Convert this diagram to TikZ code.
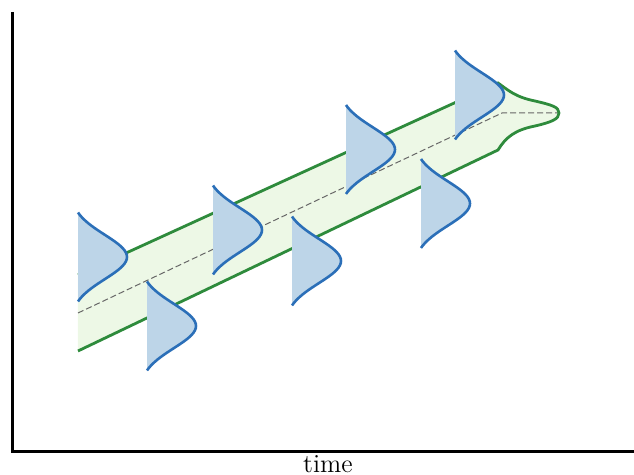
\documentclass[tikz,border=0pt]{standalone}
\usepackage{tikz}

\definecolor{bandgreen}{HTML}{2E8B3C}
\definecolor{bandfill}{HTML}{EDF8E6}
\definecolor{bellblue}{HTML}{2B6FB8}
\definecolor{bellfill}{HTML}{BDD5E8}

\tikzset{
  axisline/.style={line width=1.5pt},
  bandline/.style={draw=bandgreen, line width=1.4pt},
  meanline/.style={draw=black!60, line width=0.5pt, dash pattern=on 3pt off 1.5pt},
  bellline/.style={draw=bellblue, line width=1.3pt},
}

% bell curve standing on its left edge: #1 = left x, #2 = centre y
\newcommand{\bell}[2]{%
  \fill[bellfill] plot[variable=\t, domain=-1:1, samples=41]
    ({#1+49*(exp(-2*\t*\t)-0.1353)/0.8647}, {#2+44.5*\t}) -- cycle;
  \draw[bellline] plot[variable=\t, domain=-1:1, samples=41]
    ({#1+49*(exp(-2*\t*\t)-0.1353)/0.8647}, {#2+44.5*\t});
}

\begin{document}
\begin{tikzpicture}[x=0.5pt, y=-0.5pt]
\useasboundingbox (0,0) rectangle (634,475);

% corners of the band
\coordinate (ul) at (78,275);
\coordinate (ur) at (498,83);
\coordinate (lr) at (498,150);
\coordinate (ll) at (78,351);
\coordinate (tip) at (559,113);
% mean
\coordinate (ml) at (78,313);
\coordinate (mc) at (502,113);
\coordinate (mr) at (558,113);

\fill[bandfill] (ul) -- (ur) .. controls (508,90) and (515,97) .. (535,101)
  .. controls (552,105) and (559,107) .. (tip)
  .. controls (559,119) and (552,122) .. (535,126)
  .. controls (515,130) and (506,137) .. (lr) -- (ll) -- cycle;
\draw[meanline] (ml) -- (mc) -- (mr);
\draw[bandline] (ul) -- (ur) .. controls (508,90) and (515,97) .. (535,101)
  .. controls (552,105) and (559,107) .. (tip)
  .. controls (559,119) and (552,122) .. (535,126)
  .. controls (515,130) and (506,137) .. (lr) -- (ll);

\foreach \gx/\gy in {78/257, 147/326, 213/230, 292/261, 346/149.5, 421/203.5, 455/95}
  \bell{\gx}{\gy};

% axes
\coordinate (ytop) at (13,12);
\coordinate (xend) at (634,452);
\draw[axisline] (ytop) |- (xend);
\node[anchor=base, font=\fontsize{13}{15}\selectfont] (time) at (328,473) {time};
\end{tikzpicture}
\end{document}
